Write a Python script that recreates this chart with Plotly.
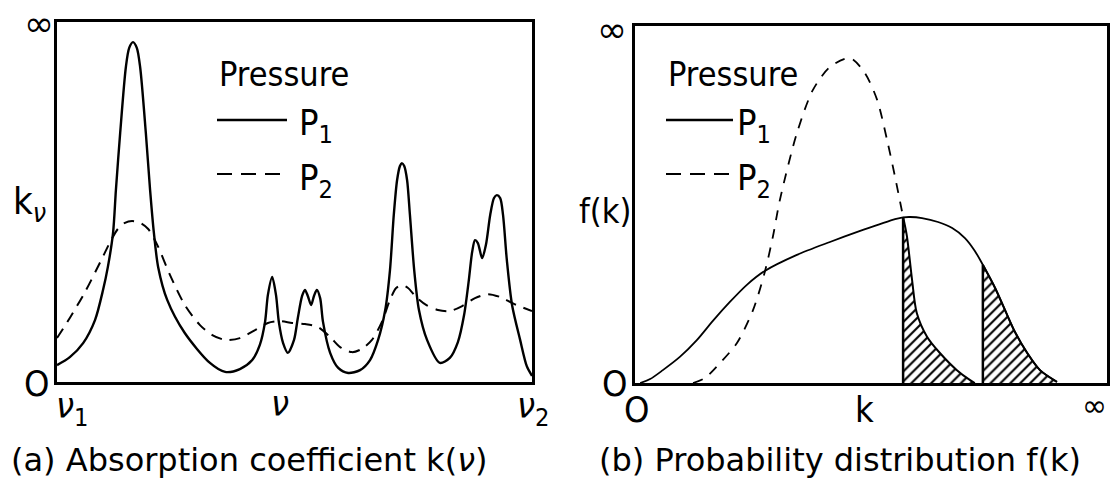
import plotly.graph_objects as go

W, H = 1111, 482

# ---------------- Panel (a): absorption coefficient k(nu) (normalized 0-100) ----------------
nu_p1 = [0, 2.7, 5.5, 8.0, 9.7, 10.7, 11.8, 12.4, 13.3, 14.5, 15.2, 16.0, 16.8, 17.5, 18.7, 19.6,
         20.4, 21.3, 23.2, 26.9, 32.2, 35.4, 38.5, 41.1, 42.7, 43.8, 44.4, 45.3, 46.1, 46.7, 47.6,
         48.6, 49.9, 50.7, 51.6, 52.2, 52.8, 53.5, 54.1, 54.7, 55.4, 56.0, 57.5, 59.2, 61.3, 63.8,
         65.9, 67.6, 69.1, 70.1, 70.9, 71.6, 72.2, 72.6, 73.1, 73.7, 74.3, 75.2, 76.2, 77.9, 80.6,
         82.7, 84.4, 85.7, 86.7, 87.4, 88.0, 88.6, 89.5, 90.3, 91.2, 92.0, 92.6, 93.3, 93.9, 94.7,
         95.8, 97.5, 98.9, 100]
k_p1 = [4.7, 6.9, 10.8, 17.2, 25.6, 31.9, 41.4, 53.3, 69.2, 87.5, 92.8, 94.4, 92.8, 87.5, 69.2, 53.3,
        41.4, 31.9, 22.8, 13.6, 5.3, 2.8, 3.6, 6.1, 10.3, 16.7, 24.2, 29.2, 24.2, 16.7, 10.8,
        8.1, 11.7, 17.8, 23.9, 25.6, 23.9, 21.4, 23.9, 25.6, 23.3, 16.7, 8.1, 3.9, 2.5, 3.3,
        6.1, 11.7, 20.0, 31.1, 46.4, 56.1, 60.0, 60.8, 60.0, 56.1, 46.4, 31.1, 20.0, 11.7, 5.3,
        6.7, 11.1, 18.6, 28.3, 36.1, 39.4, 38.6, 34.4, 38.1, 46.4, 51.1, 51.9, 51.1, 46.4, 33.9,
        21.4, 11.7, 4.4, 1.7]

nu_p2 = [0, 2.7, 5.9, 9.1, 11.2, 12.8, 14.3, 15.8, 17.5, 19.2, 21.1, 23.8, 26.9, 30.1, 32.6,
         35.4, 38.5, 41.7, 44.4, 46.9, 49.5, 52.2, 54.9, 57.5, 59.6, 62.1, 64.2, 66.3, 68.4, 70.1,
         71.4, 72.6, 73.9, 75.6, 77.7, 80.2, 82.7, 85.3, 88.0, 90.7, 93.3, 96.2, 100]
k_p2 = [12.2, 17.8, 25.0, 33.3, 38.9, 42.5, 44.2, 44.7, 44.2, 42.5, 38.1, 29.7, 21.4, 15.8, 13.1,
        11.7, 12.2, 14.4, 16.4, 16.9, 16.4, 16.1, 15.3, 12.5, 9.7, 8.3, 9.2, 11.7, 16.7, 22.8,
        26.1, 26.9, 26.1, 23.6, 21.4, 20.0, 19.7, 21.1, 23.3, 24.4, 23.6, 21.7, 19.7]

# ---------------- Panel (b): probability distribution f(k) (normalized 0-100) ----------------
kb_p1 = [1.1, 3.2, 5.9, 9.5, 13.1, 16.5, 20.1, 23.7, 27.5, 34.3, 41.3, 47.7, 51.9, 55.1, 56.8,
         58.3, 60.8, 64.2, 67.2, 69.9, 72.0, 73.7, 76.3, 78.4, 80.5, 83.1, 85.8, 89.4]
f_p1 = [0, 1.1, 3.6, 7.3, 12.0, 17.4, 22.7, 27.5, 31.4, 35.9, 39.5, 42.6, 44.5, 45.9, 46.4,
        46.5, 46.2, 45.1, 43.4, 40.6, 37.0, 33.1, 26.6, 20.4, 14.3, 8.4, 3.6, 0.3]

kb_p2 = [12.3, 14.8, 18.0, 21.6, 25.0, 27.5, 29.2, 30.7, 34.3, 37.7, 41.3, 45.6, 48.7, 51.3,
         53.4, 55.1, 56.8, 57.6, 58.7, 59.7, 61.9, 64.6, 68.2, 71.0, 72.0]
f_p2 = [0, 1.4, 5.6, 11.2, 20.4, 31.1, 40.9, 51.3, 70.0, 82.1, 88.5, 91.0, 86.8, 79.3,
        68.1, 57.7, 46.5, 41.2, 28.9, 19.6, 12.9, 8.4, 3.6, 0.8, 0]

# hatched bands: tail of P2 beyond its junction, tail of P1 beyond the cut
band1_start = 56.8   # on P2
band2_start = 73.7   # on P1

captions = ["(a) Absorption coefficient k(<i>ν</i>)", "(b) Probability distribution f(k)"]
legend_title = "Pressure"
legend_names = ["P<sub>1</sub>", "P<sub>2</sub>"]

NARROW = "Liberation Sans Narrow, DejaVu Sans Condensed, Liberation Sans, sans-serif"
WIDE = "DejaVu Sans, Liberation Sans, sans-serif"


def fx(p):
    return p / W


def fy(p):
    return 1 - p / H


fig = go.Figure()

# panel (a)
fig.add_trace(go.Scatter(x=nu_p1, y=k_p1, mode="lines", xaxis="x", yaxis="y",
                         line=dict(color="black", width=2.4, shape="spline", smoothing=0.8)))
fig.add_trace(go.Scatter(x=nu_p2, y=k_p2, mode="lines", xaxis="x", yaxis="y",
                         line=dict(color="black", width=2, dash="11px,8px", shape="spline", smoothing=0.8)))

# panel (b) hatched regions
b1 = [(x, y) for x, y in zip(kb_p2, f_p2) if x >= band1_start]
b2 = [(x, y) for x, y in zip(kb_p1, f_p1) if x >= band2_start]
for pts in (b1, b2):
    xs = [p[0] for p in pts]
    ys = [p[1] for p in pts]
    fig.add_trace(go.Scatter(x=xs, y=ys, mode="lines", xaxis="x2", yaxis="y2", fill="tozeroy",
                             fillcolor="white",
                             fillpattern=dict(shape="/", size=7, solidity=0.3, fgcolor="black",
                                              bgcolor="white", fillmode="replace"),
                             line=dict(color="black", width=2, shape="spline", smoothing=0.8)))
    fig.add_trace(go.Scatter(x=[xs[0], xs[0]], y=[0, ys[0]], mode="lines", xaxis="x2", yaxis="y2",
                             line=dict(color="black", width=2.5)))

fig.add_trace(go.Scatter(x=kb_p1, y=f_p1, mode="lines", xaxis="x2", yaxis="y2",
                         line=dict(color="black", width=1.8, shape="spline", smoothing=0.8)))
p2_main = [(x, y) for x, y in zip(kb_p2, f_p2) if x <= band1_start]
fig.add_trace(go.Scatter(x=[p[0] for p in p2_main], y=[p[1] for p in p2_main], mode="lines",
                         xaxis="x2", yaxis="y2",
                         line=dict(color="black", width=1.8, dash="10px,9px", shape="spline", smoothing=0.8)))

ax = dict(range=[0, 100], showline=True, mirror=True, linewidth=3, linecolor="black",
          showgrid=False, zeroline=False, showticklabels=False, ticks="", fixedrange=True)

fig.update_layout(
    width=W, height=H, margin=dict(l=0, r=0, t=0, b=0),
    paper_bgcolor="white", plot_bgcolor="white", showlegend=False,
    xaxis=dict(ax, domain=[fx(57), fx(532)], anchor="y"),
    yaxis=dict(ax, domain=[fy(382), fy(22)], anchor="x"),
    xaxis2=dict(ax, domain=[fx(635), fx(1107)], anchor="y2"),
    yaxis2=dict(ax, domain=[fy(383), fy(26)], anchor="x2"),
)

ann = []


def text(t, x, y, size, family=NARROW, xa="center", ya="middle"):
    ann.append(dict(text=t, x=fx(x), y=fy(y), xref="paper", yref="paper", showarrow=False,
                    xanchor=xa, yanchor=ya, font=dict(size=size, family=family, color="black")))


# panel (a) axis labels
text("∞", 39, 23, 36, WIDE)
text("k<sub><i>ν</i></sub>", 29, 203, 38)
text("O", 37, 383, 36)
text("<i>ν</i><sub>1</sub>", 72, 408, 36)
text("<i>ν</i>", 280, 403, 36)
text("<i>ν</i><sub>2</sub>", 533, 408, 36)
text(captions[0], 249, 460, 32, WIDE)

# panel (b) axis labels
text("∞", 612, 29, 36, WIDE)
text("f(k)", 633, 211, 34, NARROW, xa="right")
text("O", 615, 383, 36)
text("O", 637, 409, 36)
text("k", 864, 409, 36)
text("∞", 1109, 405, 30, WIDE, xa="right")
text(captions[1], 840, 460, 32, WIDE)

# legends
shapes = []
for (lx0, lx1, tx) in [(217, 287, 297), (666, 733, 735)]:
    text(legend_title, lx0, 74, 34, NARROW, xa="left")
    shapes.append(dict(type="line", xref="paper", yref="paper", x0=fx(lx0), x1=fx(lx1),
                       y0=fy(120), y1=fy(120), line=dict(color="black", width=2.5)))
    shapes.append(dict(type="line", xref="paper", yref="paper", x0=fx(lx0), x1=fx(lx1 - 4),
                       y0=fy(174), y1=fy(174), line=dict(color="black", width=2.2, dash="15px,9px")))
    text(legend_names[0], tx, 126, 36, NARROW, xa="left")
    text(legend_names[1], tx, 180, 36, NARROW, xa="left")

fig.update_layout(annotations=ann, shapes=shapes)
fig.write_html("out.html")
